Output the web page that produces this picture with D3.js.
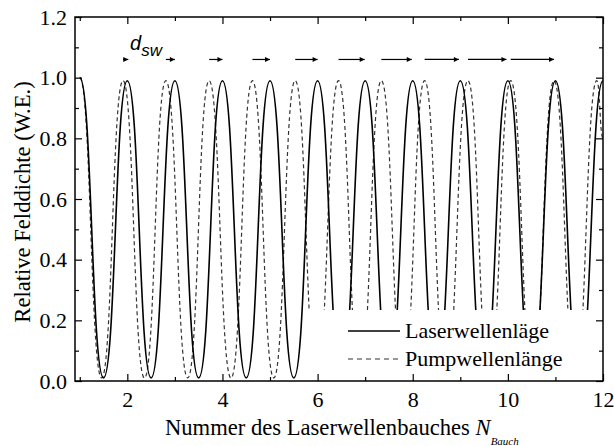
<!DOCTYPE html>
<html><head><meta charset="utf-8">
<script src="https://cdn.jsdelivr.net/npm/d3@7"></script>
<style>body{margin:0;background:#fff}svg{display:block}</style>
</head><body>
<svg id="chart" width="614" height="446"></svg>
<script>
// ---- data ----
const laserX = [1,1.5,2,2.5,3,3.5,4,4.5,5,5.5,6,6.5,7,7.5,8,8.5,9,9.5,10,10.5,11,11.5,12];
const laserY = [1.0,0.01,0.99,0.01,0.99,0.01,0.99,0.01,0.99,0.01,0.99,0.01,0.99,0.01,0.99,0.01,0.99,0.01,0.99,0.01,0.99,0.01,0.99];
const pumpX = [1.0,1.46,1.91,2.36,2.81,3.27,3.72,4.18,4.63,5.08,5.53,5.98,6.44,6.89,7.34,7.80,8.25,8.70,9.16,9.61,10.06,10.52,10.97,11.42,11.87,12.0];
const pumpY = [1.0,0.01,0.99,0.01,0.99,0.01,0.99,0.01,0.99,0.01,0.99,0.01,0.99,0.01,0.99,0.01,0.99,0.01,0.99,0.01,0.99,0.01,0.99,0.01,0.99,0.80];
const arrowStart = [1.91,2.81,3.72,4.63,5.53,6.44,7.34,8.25,9.16,10.06];
const arrowEnd   = [2.02,3.0,4.0,5.0,6.0,6.99,7.98,8.97,9.97,10.97];
const arrowLevel = 1.06;
const xMajor = [2,4,6,8,10,12];
const xMinor = [1,3,5,7,9,11];
const yMajor = [0,0.2,0.4,0.6,0.8,1.0,1.2];
const yMinor = [0.1,0.3,0.5,0.7,0.9,1.1];
const seriesNames = ["Laserwellenläge","Pumpwellenlänge"];

const svg = d3.select("#chart");
const L = 75, R = 603, T = 17, B = 381;
const x = d3.scaleLinear().domain([0.9, 12]).range([L, R]);
const y = d3.scaleLinear().domain([0, 1.2]).range([B, T]);

const serif = "'Liberation Serif','Times New Roman',serif";
const sans = "'Liberation Sans',Arial,sans-serif";
const FS = 22;

const defs = svg.append("defs");
defs.append("clipPath").attr("id","clip")
  .append("rect").attr("x",L).attr("y",T).attr("width",R-L).attr("height",B-T);
defs.append("marker").attr("id","arr").attr("viewBox","0 0 10 10")
  .attr("refX",10).attr("refY",5).attr("markerWidth",7).attr("markerHeight",5)
  .attr("markerUnits","userSpaceOnUse").attr("orient","auto")
  .append("path").attr("d","M0,0L10,5L0,10Z").attr("fill","#000");

const line = d3.line().x(d => x(d[0])).y(d => y(d[1])).curve(d3.curveBumpX);
const g = svg.append("g").attr("clip-path","url(#clip)");
g.append("path").datum(pumpX.map((v,i)=>[v,pumpY[i]]))
  .attr("d",line).attr("fill","none").attr("stroke","#333")
  .attr("stroke-width",1.2).attr("stroke-dasharray","4,3");
g.append("path").datum(laserX.map((v,i)=>[v,laserY[i]]))
  .attr("d",line).attr("fill","none").attr("stroke","#000").attr("stroke-width",1.6);

// arrows
svg.append("g").selectAll("line").data(arrowStart).join("line")
  .attr("x1",d=>x(d)).attr("x2",(d,i)=>x(arrowEnd[i]))
  .attr("y1",y(arrowLevel)).attr("y2",y(arrowLevel))
  .attr("stroke","#000").attr("stroke-width",1.2).attr("marker-end","url(#arr)");

// d_sw label
const dl = svg.append("text").attr("x",130).attr("y",50)
  .attr("font-family",sans).attr("font-style","italic").attr("font-size",20);
dl.append("tspan").text("d");
dl.append("tspan").attr("font-size",17).attr("dy",6).text("sw");

// legend box
svg.append("rect").attr("x",303).attr("y",310).attr("width",595-303).attr("height",B-310).attr("fill","#fff");
const lg = svg.append("g");
const legY = [331, 359];
lg.selectAll("line").data(seriesNames).join("line")
  .attr("x1",348).attr("x2",400).attr("y1",(d,i)=>legY[i]).attr("y2",(d,i)=>legY[i])
  .attr("stroke",(d,i)=>i?"#333":"#000").attr("stroke-width",(d,i)=>i?1.2:1.6)
  .attr("stroke-dasharray",(d,i)=>i?"5,4":null);
lg.selectAll("text").data(seriesNames).join("text")
  .attr("x",405).attr("y",(d,i)=>legY[i]+6.5)
  .attr("font-family",serif).attr("font-size",FS).text(d=>d);

// axes (ticks inward)
function tickAxis(gen, tr, major, minor, labels, pad) {
  const a = svg.append("g").attr("transform",tr);
  a.call(gen.tickValues(major).tickSizeInner(-7).tickSizeOuter(0).tickPadding(pad)
    .tickFormat(labels ? labels : () => ""));
  a.selectAll(".domain").remove();
  a.attr("font-family",serif).attr("font-size",FS);
  a.selectAll("text").attr("font-family",serif).attr("font-size",FS).attr("fill","#000");
  a.selectAll("line").attr("stroke","#000").attr("stroke-width",1.2);
  const b = svg.append("g").attr("transform",tr);
  b.call(gen.tickValues(minor).tickSizeInner(-4).tickSizeOuter(0).tickFormat(() => ""));
  b.selectAll(".domain").remove();
  b.selectAll("line").attr("stroke","#000").attr("stroke-width",1.2);
}
tickAxis(d3.axisBottom(x), `translate(0,${B})`, xMajor, xMinor, d3.format("d"), 10);
tickAxis(d3.axisTop(x), `translate(0,${T})`, xMajor, xMinor, null, 0);
tickAxis(d3.axisLeft(y), `translate(${L},0)`, yMajor, yMinor, d3.format(".1f"), 8);
tickAxis(d3.axisRight(y), `translate(${R},0)`, yMajor, yMinor, null, 0);

svg.append("rect").attr("x",L).attr("y",T).attr("width",R-L).attr("height",B-T)
  .attr("fill","none").attr("stroke","#000").attr("stroke-width",1.5);

// axis titles
const xt = svg.append("text").attr("x",165).attr("y",435)
  .attr("font-family",serif).attr("font-size",22.6);
xt.append("tspan").text("Nummer des Laserwellenbauches ");
xt.append("tspan").attr("font-style","italic").text("N");
xt.append("tspan").attr("font-style","italic").attr("font-size",11).attr("dy",10).text("Bauch");

svg.append("text").attr("transform","translate(30,202) rotate(-90)")
  .attr("text-anchor","middle").attr("font-family",serif).attr("font-size",22.6)
  .text("Relative Felddichte (W.E.)");
</script>
</body></html>
